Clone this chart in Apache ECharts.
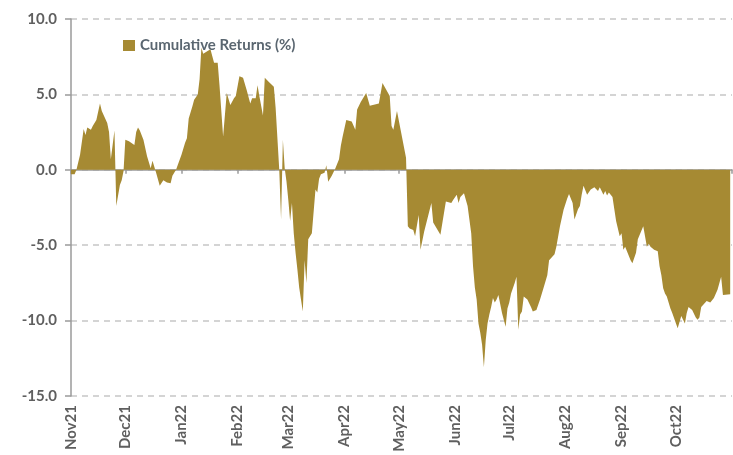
<!DOCTYPE html>
<html>
<head>
<meta charset="utf-8">
<script src="https://cdn.jsdelivr.net/npm/echarts@6/dist/echarts.min.js"></script>
<style>
  html, body { margin: 0; padding: 0; background: #ffffff; }
  #chart { width: 733px; height: 455px; }
</style>
</head>
<body>
<div id="chart"></div>
<script>
const seriesName = 'Cumulative Returns (%)';
const tickLabels = ['Nov21','Dec21','Jan22','Feb22','Mar22','Apr22','May22','Jun22','Jul22','Aug22','Sep22','Oct22'];
const yTicks = [-15, -10, -5, 0, 5, 10];

const dates = [
 '2021-11-01','2021-11-03','2021-11-04','2021-11-05','2021-11-06','2021-11-08','2021-11-09','2021-11-10','2021-11-12','2021-11-13',
 '2021-11-15','2021-11-17','2021-11-18','2021-11-21','2021-11-22','2021-11-23','2021-11-24','2021-11-25','2021-11-26','2021-11-27',
 '2021-11-28','2021-11-29','2021-11-30',
 '2021-12-01','2021-12-03','2021-12-06','2021-12-07','2021-12-08','2021-12-09','2021-12-11','2021-12-13','2021-12-15','2021-12-16',
 '2021-12-18','2021-12-20','2021-12-22','2021-12-24','2021-12-26','2021-12-27','2021-12-29',
 '2022-01-01','2022-01-03','2022-01-04','2022-01-05','2022-01-07','2022-01-08','2022-01-10','2022-01-11','2022-01-12','2022-01-13',
 '2022-01-15','2022-01-17','2022-01-18','2022-01-19','2022-01-21','2022-01-22','2022-01-24','2022-01-26','2022-01-28','2022-01-30','2022-01-31',
 '2022-02-02','2022-02-04','2022-02-06','2022-02-08','2022-02-09','2022-02-11','2022-02-12','2022-02-13','2022-02-15','2022-02-16',
 '2022-02-18','2022-02-21','2022-02-22','2022-02-23','2022-02-24','2022-02-25','2022-02-26','2022-02-27','2022-02-28',
 '2022-03-01','2022-03-02','2022-03-03','2022-03-04','2022-03-05','2022-03-06','2022-03-07','2022-03-08','2022-03-09','2022-03-10',
 '2022-03-11','2022-03-12','2022-03-14','2022-03-15','2022-03-16','2022-03-17','2022-03-18','2022-03-19','2022-03-21','2022-03-22',
 '2022-03-23','2022-03-25','2022-03-27','2022-03-29','2022-03-30','2022-03-31',
 '2022-04-02','2022-04-05','2022-04-07','2022-04-08','2022-04-10','2022-04-13','2022-04-15','2022-04-20','2022-04-22','2022-04-26',
 '2022-04-27','2022-04-28','2022-04-30',
 '2022-05-05','2022-05-06','2022-05-07','2022-05-09','2022-05-10','2022-05-12','2022-05-13','2022-05-15','2022-05-19','2022-05-20',
 '2022-05-21','2022-05-24','2022-05-25','2022-05-27','2022-05-30','2022-05-31',
 '2022-06-02','2022-06-03','2022-06-04','2022-06-06','2022-06-08','2022-06-10','2022-06-11','2022-06-12','2022-06-13','2022-06-14',
 '2022-06-15','2022-06-16','2022-06-17','2022-06-18','2022-06-19','2022-06-20','2022-06-21','2022-06-22','2022-06-23','2022-06-24',
 '2022-06-25','2022-06-27','2022-06-29','2022-06-30',
 '2022-07-01','2022-07-02','2022-07-04','2022-07-05','2022-07-06','2022-07-07','2022-07-08','2022-07-09','2022-07-11','2022-07-13',
 '2022-07-14','2022-07-16','2022-07-18','2022-07-20','2022-07-22','2022-07-23','2022-07-26','2022-07-27','2022-07-29','2022-07-31',
 '2022-08-02','2022-08-03','2022-08-04','2022-08-05','2022-08-06','2022-08-08','2022-08-09','2022-08-10','2022-08-11','2022-08-13',
 '2022-08-15','2022-08-17','2022-08-19','2022-08-20','2022-08-22','2022-08-23','2022-08-24','2022-08-25','2022-08-27','2022-08-28',
 '2022-08-29','2022-08-31',
 '2022-09-01','2022-09-02','2022-09-03','2022-09-05','2022-09-06','2022-09-07','2022-09-08','2022-09-09','2022-09-10','2022-09-13',
 '2022-09-15','2022-09-16','2022-09-17','2022-09-19','2022-09-21','2022-09-22','2022-09-23','2022-09-24','2022-09-25','2022-09-26',
 '2022-09-28','2022-09-29',
 '2022-10-02','2022-10-03','2022-10-04','2022-10-06','2022-10-07','2022-10-08','2022-10-10','2022-10-12','2022-10-13','2022-10-14',
 '2022-10-15','2022-10-16','2022-10-18','2022-10-20','2022-10-22','2022-10-24','2022-10-26','2022-10-27','2022-10-31'
];

const returns = [
 -0.3,-0.3,0.0,0.5,1.0,2.7,2.3,2.8,2.65,2.9,
 3.3,4.4,3.9,3.1,2.5,0.7,0.7,2.6,-2.4,-1.7,
 -1.0,-0.7,-0.1,
 2.0,1.9,1.65,2.5,2.8,2.6,2.0,0.9,0.1,0.6,
 -0.2,-1.05,-0.7,-0.85,-0.9,-0.4,0.0,
 1.0,1.8,2.1,3.4,4.2,4.65,5.0,6.0,8.1,7.7,
 7.85,8.0,7.9,7.1,7.1,5.6,2.2,5.1,4.3,4.75,4.9,
 6.2,6.1,5.3,4.4,4.75,4.75,5.6,4.9,3.6,6.1,
 5.85,5.5,4.1,4.2,0.0,-3.3,2.0,0.1,-0.8,
 -2.0,-3.4,-2.2,-4.2,-5.5,-6.6,-7.8,-8.6,-9.4,-6.0,
 -7.5,-4.6,-4.2,-4.1,-1.3,-1.5,-0.6,-0.3,-0.2,0.3,
 -0.8,-0.4,0.1,0.7,1.6,2.2,
 3.3,3.2,2.65,4.0,4.5,5.1,4.25,4.4,5.75,4.9,
 2.9,2.65,3.9,
 0.8,-3.75,-3.9,-4.0,-4.4,-3.0,-5.3,-4.1,-2.2,-3.5,
 -3.4,-4.3,-4.4,-2.1,-2.2,-2.0,
 -1.65,-2.2,-1.8,-1.55,-2.4,-4.2,-6.4,-7.8,-8.6,-10.2,
 -10.8,-11.6,-13.1,-11.3,-10.2,-9.6,-9.1,-8.5,-8.8,-8.6,
 -8.3,-9.5,-10.4,-9.2,
 -8.8,-8.2,-7.5,-7.1,-10.6,-9.6,-9.4,-8.4,-8.6,-9.1,
 -9.4,-9.3,-8.6,-7.8,-7.0,-6.0,-5.6,-5.1,-3.75,-2.65,
 -1.9,-1.6,-1.7,-2.2,-3.3,-2.6,-2.4,-1.65,-1.05,-1.65,
 -1.3,-1.15,-1.4,-1.15,-1.65,-1.4,-1.7,-1.5,-1.8,-2.6,
 -3.4,-4.4,
 -4.2,-5.3,-5.1,-5.7,-6.0,-6.2,-6.2,-5.5,-4.6,-3.75,
 -5.1,-4.9,-5.1,-5.3,-5.4,-6.4,-7.0,-7.85,-8.2,-8.4,
 -9.2,-9.5,
 -10.5,-10.5,-9.7,-10.2,-9.5,-9.1,-9.3,-9.8,-9.95,-9.8,
 -9.1,-9.0,-8.7,-8.8,-8.5,-7.95,-7.1,-8.3,-8.25
];

const startDate = '2021-11-01';
const endDate = '2022-11-01';

const seriesData = dates.map((d, i) => [d, returns[i]]);
const FONT = 'Lato, "Open Sans", sans-serif';
const DAY = 86400000;

const chart = echarts.init(document.getElementById('chart'), null, { renderer: 'canvas' });
chart.setOption({
  animation: false,
  backgroundColor: '#ffffff',
  grid: { left: 71, right: 1, top: 19, bottom: 59, containLabel: false },
  legend: {
    show: true,
    data: [seriesName],
    left: 118,
    top: 33,
    icon: 'rect',
    itemWidth: 12,
    itemHeight: 11,
    itemGap: 4,
    textStyle: { fontFamily: FONT, fontWeight: 'bold', fontSize: 15, color: '#5a6670' }
  },
  xAxis: [
    {
      type: 'time',
      min: startDate,
      max: endDate,
      splitNumber: 12,
      minInterval: 28 * DAY,
      maxInterval: 31 * DAY,
      axisLine: { show: true, onZero: true, lineStyle: { color: '#9a9a9a', width: 1.5 } },
      axisTick: { show: true, length: 4, lineStyle: { color: '#9a9a9a', width: 1.5 } },
      axisLabel: { show: false },
      splitLine: { show: false }
    },
    {
      type: 'time',
      min: startDate,
      max: endDate,
      position: 'bottom',
      splitNumber: 12,
      minInterval: 28 * DAY,
      maxInterval: 31 * DAY,
      axisLine: { show: false, onZero: false },
      axisTick: { show: false },
      splitLine: { show: false },
      axisLabel: {
        show: true,
        rotate: 90,
        margin: 9,
        showMaxLabel: false,
        hideOverlap: false,
        fontFamily: FONT,
        fontWeight: 'bold',
        fontSize: 15,
        color: '#5f5f5f',
        formatter: function (v) {
          const d = new Date(v);
          const idx = (d.getFullYear() - 2021) * 12 + d.getMonth() - 10;
          return tickLabels[idx] || '';
        }
      }
    }
  ],
  yAxis: {
    type: 'value',
    min: yTicks[0],
    max: yTicks[yTicks.length - 1],
    interval: 5,
    axisLine: { show: true, onZero: false, lineStyle: { color: '#9a9a9a', width: 1.5 } },
    axisTick: { show: true, length: 6, lineStyle: { color: '#9a9a9a', width: 1.5 } },
    axisLabel: {
      margin: 14,
      fontFamily: FONT,
      fontWeight: 'bold',
      fontSize: 15,
      color: '#5f5f5f',
      formatter: function (v) { return v.toFixed(1); }
    },
    splitLine: { show: true, lineStyle: { color: '#c6c6c6', width: 1.5, type: [6, 5] } }
  },
  series: [
    {
      name: seriesName,
      type: 'line',
      xAxisIndex: 0,
      data: seriesData,
      showSymbol: false,
      symbol: 'none',
      smooth: false,
      itemStyle: { color: '#A68A33' },
      lineStyle: { width: 0, color: '#A68A33' },
      areaStyle: { color: '#A68A33', opacity: 1 },
      z: 1
    }
  ]
});
</script>
</body>
</html>
